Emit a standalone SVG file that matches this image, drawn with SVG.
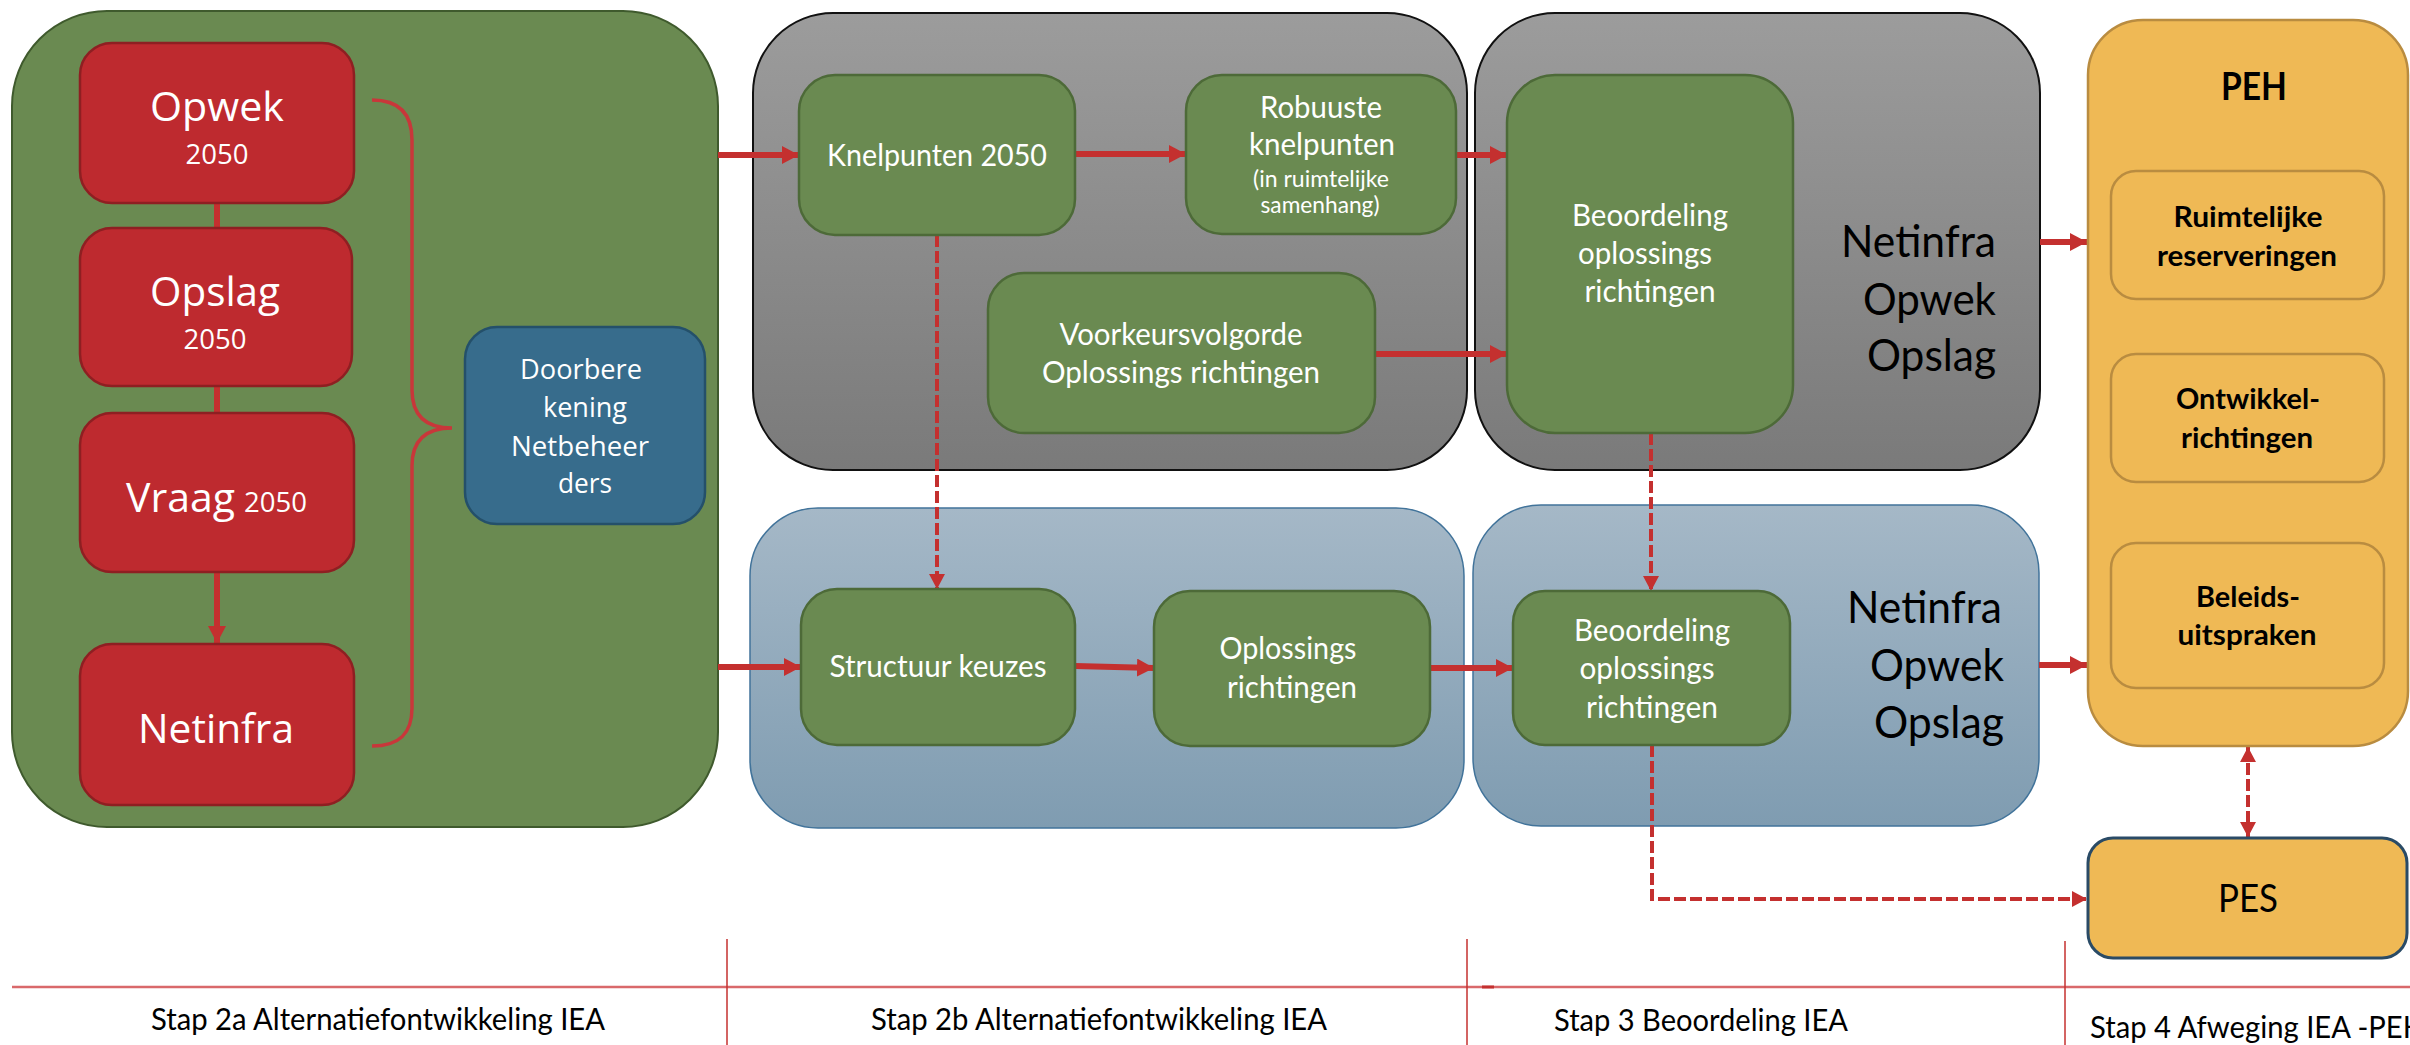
<svg xmlns="http://www.w3.org/2000/svg" width="2410" height="1045" viewBox="0 0 2410 1045">
<defs>
<linearGradient id="gGray" x1="0" y1="0" x2="0" y2="1"><stop offset="0" stop-color="#9c9c9c"/><stop offset="1" stop-color="#7a7a7a"/></linearGradient>
<linearGradient id="gBlue" x1="0" y1="0" x2="0" y2="1"><stop offset="0" stop-color="#a5b8c7"/><stop offset="1" stop-color="#7f9cb1"/></linearGradient>
<marker id="ah" markerUnits="userSpaceOnUse" markerWidth="18" markerHeight="18" refX="17" refY="9" orient="auto"><path d="M0,0 L17,9 L0,18 z" fill="#c4302f"/></marker>
<marker id="ahs" markerUnits="userSpaceOnUse" markerWidth="16" markerHeight="16" refX="15" refY="8" orient="auto"><path d="M0,0 L15,8 L0,16 z" fill="#c4302f"/></marker>
<marker id="ahb" markerUnits="userSpaceOnUse" markerWidth="16" markerHeight="16" refX="15" refY="8" orient="auto-start-reverse"><path d="M0,0 L15,8 L0,16 z" fill="#c4302f"/></marker>
</defs>
<style>
.red{fill:#be2a2f;stroke:#8e1f22;stroke-width:2.5}
.grn{fill:#6a8a51;stroke:#4d6a38;stroke-width:2.5}
.gray{fill:url(#gGray);stroke:#111;stroke-width:2}
.blu{fill:url(#gBlue);stroke:#41739a;stroke-width:1.5}
.org{fill:#efb955;stroke:#b98c40;stroke-width:2.5}
.t{font-family:Lato,"Open Sans",sans-serif;fill:#fff}
.s{font-family:"Open Sans","Noto Sans",sans-serif;fill:#fff}
.k{fill:#000}
.b{font-weight:bold}
.c{text-anchor:middle}
.e{text-anchor:end}
.ln{stroke:#c4302f;stroke-width:6;fill:none}
.ds{stroke:#c4302f;stroke-width:4;fill:none;stroke-dasharray:12 4}
</style>

<g id="stap2a">
<rect x="12" y="11" width="706" height="816" rx="95" fill="#6a8a51" stroke="#3f5a2d" stroke-width="2"/>
</g>
<g id="stap2b-top"><rect x="753" y="13" width="714" height="457" rx="80" class="gray"/></g>
<g id="stap3-top"><rect x="1475" y="13" width="565" height="457" rx="80" class="gray"/></g>
<g id="stap2b-bottom"><rect x="750" y="508" width="714" height="320" rx="68" class="blu"/></g>
<g id="stap3-bottom"><rect x="1473" y="505" width="566" height="321" rx="68" class="blu"/></g>

<g id="connectors">
<line x1="217" y1="203" x2="217" y2="229" class="ln"/>
<line x1="217" y1="386" x2="217" y2="413" class="ln"/>
<line x1="217" y1="572" x2="217" y2="643" class="ln" marker-end="url(#ah)"/>
<path d="M372,100 C400,100 412,115 412,140 L412,390 C412,415 425,428 452,428 C425,428 412,441 412,466 L412,708 C412,733 400,746 372,746" fill="none" stroke="#c8373a" stroke-width="3.5"/>
<line x1="718" y1="155" x2="799" y2="155" class="ln" marker-end="url(#ah)"/>
<line x1="718" y1="667" x2="801" y2="667" class="ln" marker-end="url(#ah)"/>
<line x1="1075" y1="154" x2="1186" y2="154" class="ln" marker-end="url(#ah)"/>
<line x1="1456" y1="155" x2="1507" y2="155" class="ln" marker-end="url(#ah)"/>
<line x1="1375" y1="354" x2="1507" y2="354" class="ln" marker-end="url(#ah)"/>
<line x1="1075" y1="666" x2="1154" y2="668" class="ln" marker-end="url(#ah)"/>
<line x1="1430" y1="668" x2="1513" y2="668" class="ln" marker-end="url(#ah)"/>
<line x1="2040" y1="242" x2="2087" y2="242" class="ln" marker-end="url(#ah)"/>
<line x1="2039" y1="665" x2="2087" y2="665" class="ln" marker-end="url(#ah)"/>
<line x1="937" y1="235" x2="937" y2="589" class="ds" marker-end="url(#ahs)"/>
<line x1="1651" y1="433" x2="1651" y2="591" class="ds" marker-end="url(#ahs)"/>
<path d="M1652,745 L1652,899 L2087,899" class="ds" marker-end="url(#ahs)"/>
<line x1="2248" y1="747" x2="2248" y2="837" class="ds" marker-start="url(#ahb)" marker-end="url(#ahb)"/>
</g>

<g id="opwek"><rect x="80" y="43" width="274" height="160" rx="32" class="red"/>
<text x="217" y="121" class="s c" font-size="41" textLength="134" lengthAdjust="spacingAndGlyphs">Opwek</text>
<text x="217" y="164" class="s c" font-size="28" textLength="63" lengthAdjust="spacingAndGlyphs">2050</text></g>
<g id="opslag"><rect x="80" y="228" width="272" height="158" rx="32" class="red"/>
<text x="215" y="306" class="s c" font-size="41" textLength="130" lengthAdjust="spacingAndGlyphs">Opslag</text>
<text x="215" y="349" class="s c" font-size="28" textLength="63" lengthAdjust="spacingAndGlyphs">2050</text></g>
<g id="vraag"><rect x="80" y="413" width="274" height="159" rx="32" class="red"/>
<text x="126" y="512" class="s" font-size="41" textLength="109" lengthAdjust="spacingAndGlyphs">Vraag</text>
<text x="244" y="512" class="s" font-size="28" textLength="63" lengthAdjust="spacingAndGlyphs">2050</text></g>
<g id="netinfra"><rect x="80" y="644" width="274" height="161" rx="32" class="red"/>
<text x="216" y="743" class="s c" font-size="41" textLength="156" lengthAdjust="spacingAndGlyphs">Netinfra</text></g>
<g id="doorberekening"><rect x="465" y="327" width="240" height="197" rx="32" fill="#376c8c" stroke="#24506a" stroke-width="2.5"/>
<text class="s c" font-size="27"><tspan x="581" y="379" textLength="122" lengthAdjust="spacingAndGlyphs">Doorbere</tspan><tspan x="585" y="417" textLength="84" lengthAdjust="spacingAndGlyphs">kening</tspan><tspan x="580" y="456" textLength="138" lengthAdjust="spacingAndGlyphs">Netbeheer</tspan><tspan x="585" y="493" textLength="54" lengthAdjust="spacingAndGlyphs">ders</tspan></text></g>

<g id="knelpunten"><rect x="799" y="75" width="276" height="160" rx="36" class="grn"/>
<text x="937" y="166" class="t c" font-size="31" textLength="220" lengthAdjust="spacingAndGlyphs">Knelpunten 2050</text></g>
<g id="robuuste"><rect x="1186" y="75" width="270" height="159" rx="36" class="grn"/>
<text x="1321" y="118" class="t c" font-size="31" textLength="122" lengthAdjust="spacingAndGlyphs">Robuuste</text>
<text x="1322" y="155" class="t c" font-size="31" textLength="146" lengthAdjust="spacingAndGlyphs">knelpunten</text>
<text x="1321" y="187" class="t c" font-size="23" textLength="136" lengthAdjust="spacingAndGlyphs">(in ruimtelijke</text>
<text x="1320" y="213" class="t c" font-size="23" textLength="119" lengthAdjust="spacingAndGlyphs">samenhang)</text></g>
<g id="voorkeursvolgorde"><rect x="988" y="273" width="387" height="160" rx="36" class="grn"/>
<text x="1181" y="345" class="t c" font-size="31" textLength="243" lengthAdjust="spacingAndGlyphs">Voorkeursvolgorde</text>
<text x="1181" y="383" class="t c" font-size="31" textLength="278" lengthAdjust="spacingAndGlyphs">Oplossings richtingen</text></g>
<g id="beoordeling-top"><rect x="1507" y="75" width="286" height="358" rx="48" class="grn"/>
<text x="1650" y="226" class="t c" font-size="31" textLength="156" lengthAdjust="spacingAndGlyphs">Beoordeling</text>
<text x="1645" y="264" class="t c" font-size="31" textLength="134" lengthAdjust="spacingAndGlyphs">oplossings</text>
<text x="1650" y="302" class="t c" font-size="31" textLength="131" lengthAdjust="spacingAndGlyphs">richtingen</text></g>
<g id="label-top"><text class="t k e" font-size="45"><tspan x="1996" y="257" textLength="155" lengthAdjust="spacingAndGlyphs">Netinfra</tspan><tspan x="1996" y="315" textLength="133" lengthAdjust="spacingAndGlyphs">Opwek</tspan><tspan x="1996" y="371" textLength="129" lengthAdjust="spacingAndGlyphs">Opslag</tspan></text></g>

<g id="structuur"><rect x="801" y="589" width="274" height="156" rx="36" class="grn"/>
<text x="938" y="677" class="t c" font-size="31" textLength="217" lengthAdjust="spacingAndGlyphs">Structuur keuzes</text></g>
<g id="oplossingsrichtingen"><rect x="1154" y="591" width="276" height="155" rx="36" class="grn"/>
<text x="1288" y="659" class="t c" font-size="31" textLength="137" lengthAdjust="spacingAndGlyphs">Oplossings</text>
<text x="1292" y="698" class="t c" font-size="31" textLength="130" lengthAdjust="spacingAndGlyphs">richtingen</text></g>
<g id="beoordeling-bottom"><rect x="1513" y="591" width="277" height="154" rx="32" class="grn"/>
<text x="1652" y="641" class="t c" font-size="31" textLength="156" lengthAdjust="spacingAndGlyphs">Beoordeling</text>
<text x="1647" y="679" class="t c" font-size="31" textLength="135" lengthAdjust="spacingAndGlyphs">oplossings</text>
<text x="1652" y="718" class="t c" font-size="31" textLength="132" lengthAdjust="spacingAndGlyphs">richtingen</text></g>
<g id="label-bottom"><text class="t k e" font-size="45"><tspan x="2002" y="623" textLength="155" lengthAdjust="spacingAndGlyphs">Netinfra</tspan><tspan x="2004" y="681" textLength="134" lengthAdjust="spacingAndGlyphs">Opwek</tspan><tspan x="2004" y="738" textLength="130" lengthAdjust="spacingAndGlyphs">Opslag</tspan></text></g>

<g id="peh"><rect x="2088" y="20" width="320" height="726" rx="55" class="org"/>
<text x="2254" y="100" class="t k b c" font-size="38" textLength="66" lengthAdjust="spacingAndGlyphs">PEH</text></g>
<g id="ruimtelijke"><rect x="2111" y="171" width="273" height="128" rx="25" class="org"/>
<text x="2248" y="227" class="t k b c" font-size="29" textLength="149" lengthAdjust="spacingAndGlyphs">Ruimtelijke</text>
<text x="2247" y="266" class="t k b c" font-size="29" textLength="180" lengthAdjust="spacingAndGlyphs">reserveringen</text></g>
<g id="ontwikkel"><rect x="2111" y="354" width="273" height="128" rx="25" class="org"/>
<text x="2248" y="409" class="t k b c" font-size="29" textLength="144" lengthAdjust="spacingAndGlyphs">Ontwikkel-</text>
<text x="2247" y="448" class="t k b c" font-size="29" textLength="132" lengthAdjust="spacingAndGlyphs">richtingen</text></g>
<g id="beleids"><rect x="2111" y="543" width="273" height="145" rx="25" class="org"/>
<text x="2248" y="607" class="t k b c" font-size="29" textLength="104" lengthAdjust="spacingAndGlyphs">Beleids-</text>
<text x="2247" y="645" class="t k b c" font-size="29" textLength="139" lengthAdjust="spacingAndGlyphs">uitspraken</text></g>
<g id="pes"><rect x="2088" y="838" width="319" height="120" rx="25" fill="#efb955" stroke="#2a4b66" stroke-width="3"/>
<text x="2248" y="912" class="t k c" font-size="39" textLength="60" lengthAdjust="spacingAndGlyphs">PES</text></g>

<g id="timeline">
<line x1="12" y1="987" x2="2410" y2="987" stroke="#d9696b" stroke-width="2.5"/>
<line x1="1482" y1="987" x2="1494" y2="987" stroke="#c4302f" stroke-width="3"/>
<line x1="727" y1="939" x2="727" y2="1045" stroke="#c4302f" stroke-width="1.5"/>
<line x1="1467" y1="939" x2="1467" y2="1045" stroke="#c4302f" stroke-width="1.5"/>
<line x1="2065" y1="941" x2="2065" y2="1045" stroke="#c4302f" stroke-width="1.5"/>
<text x="151" y="1030" class="t k" font-size="30" textLength="454" lengthAdjust="spacingAndGlyphs">Stap 2a Alternatiefontwikkeling IEA</text>
<text x="871" y="1030" class="t k" font-size="30" textLength="456" lengthAdjust="spacingAndGlyphs">Stap 2b Alternatiefontwikkeling IEA</text>
<text x="1554" y="1031" class="t k" font-size="30" textLength="294" lengthAdjust="spacingAndGlyphs">Stap 3 Beoordeling IEA</text>
<text x="2090" y="1038" class="t k" font-size="30" textLength="335" lengthAdjust="spacingAndGlyphs">Stap 4 Afweging IEA -PEH</text>
</g>
</svg>
